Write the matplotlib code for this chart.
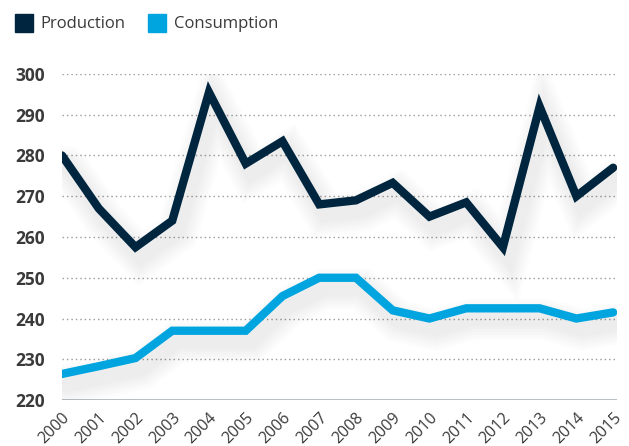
import matplotlib
matplotlib.use("Agg")
import matplotlib.pyplot as plt
import matplotlib.patheffects as pe
from matplotlib.patches import Rectangle

years = list(range(2000, 2016))
year_labels = [str(y) for y in years]
production = [280, 267, 257.5, 264, 295.5, 278, 283.5, 268, 269, 273.3, 265, 268.5, 257.5, 292, 270, 277]
consumption = [226.4, 228.3, 230.3, 237, 237, 237, 245.5, 250, 250, 242, 240, 242.5, 242.5, 242.5, 240, 241.5]
yticks = [220, 230, 240, 250, 260, 270, 280, 290, 300]

PROD_COLOR = "#00263f"
CONS_COLOR = "#00a5e0"
TEXT_COLOR = "#3a3a3a"

plt.rcParams['font.family'] = ['Open Sans', 'DejaVu Sans']

fig = plt.figure(figsize=(6.29, 4.46), dpi=100)
ax = fig.add_axes([0.0986, 0.1031, 0.882, 0.731])

shadow = [pe.SimpleLineShadow(offset=(4, -8), shadow_color='black', alpha=0.013, linewidth=w)
          for w in (30, 26, 22, 18, 14, 10)] + [pe.Normal()]

for yv in yticks[1:]:
    ax.axhline(yv, color="#9a9a9a", linestyle=(0, (1, 2.2)), linewidth=1.0, zorder=1)
ax.axhline(220, color="#a3abaf", linewidth=1.8, zorder=1)

ax.plot(years, consumption, color=CONS_COLOR, linewidth=6, solid_capstyle='round',
        solid_joinstyle='miter', path_effects=shadow, zorder=3)
ax.plot(years, production, color=PROD_COLOR, linewidth=6, solid_capstyle='round',
        solid_joinstyle='miter', path_effects=shadow, zorder=4)

ax.set_xlim(2000, 2015.1)
ax.set_ylim(220, 300)
ax.set_yticks(yticks)
ax.set_yticklabels([str(v) for v in yticks], fontsize=12.5, fontweight='bold', color=TEXT_COLOR)
ax.set_xticks(years)
ax.set_xticklabels(year_labels, rotation=45, ha='right', va='top', rotation_mode='anchor',
                   fontsize=11.5, color=TEXT_COLOR)
ax.tick_params(axis='both', length=0)
ax.tick_params(axis='y', pad=12)
ax.tick_params(axis='x', pad=7)
for s in ax.spines.values():
    s.set_visible(False)

# legend
fig.patches.append(Rectangle((15/629, 1-32/446), 18/629, 18/446, transform=fig.transFigure,
                             color=PROD_COLOR, figure=fig))
fig.text(40/629, 1-24/446, "Production", fontsize=12, color=TEXT_COLOR, va='center')
fig.patches.append(Rectangle((148/629, 1-32/446), 18/629, 18/446, transform=fig.transFigure,
                             color=CONS_COLOR, figure=fig))
fig.text(174/629, 1-24/446, "Consumption", fontsize=12, color=TEXT_COLOR, va='center')

fig.savefig("out.png", dpi=100)
